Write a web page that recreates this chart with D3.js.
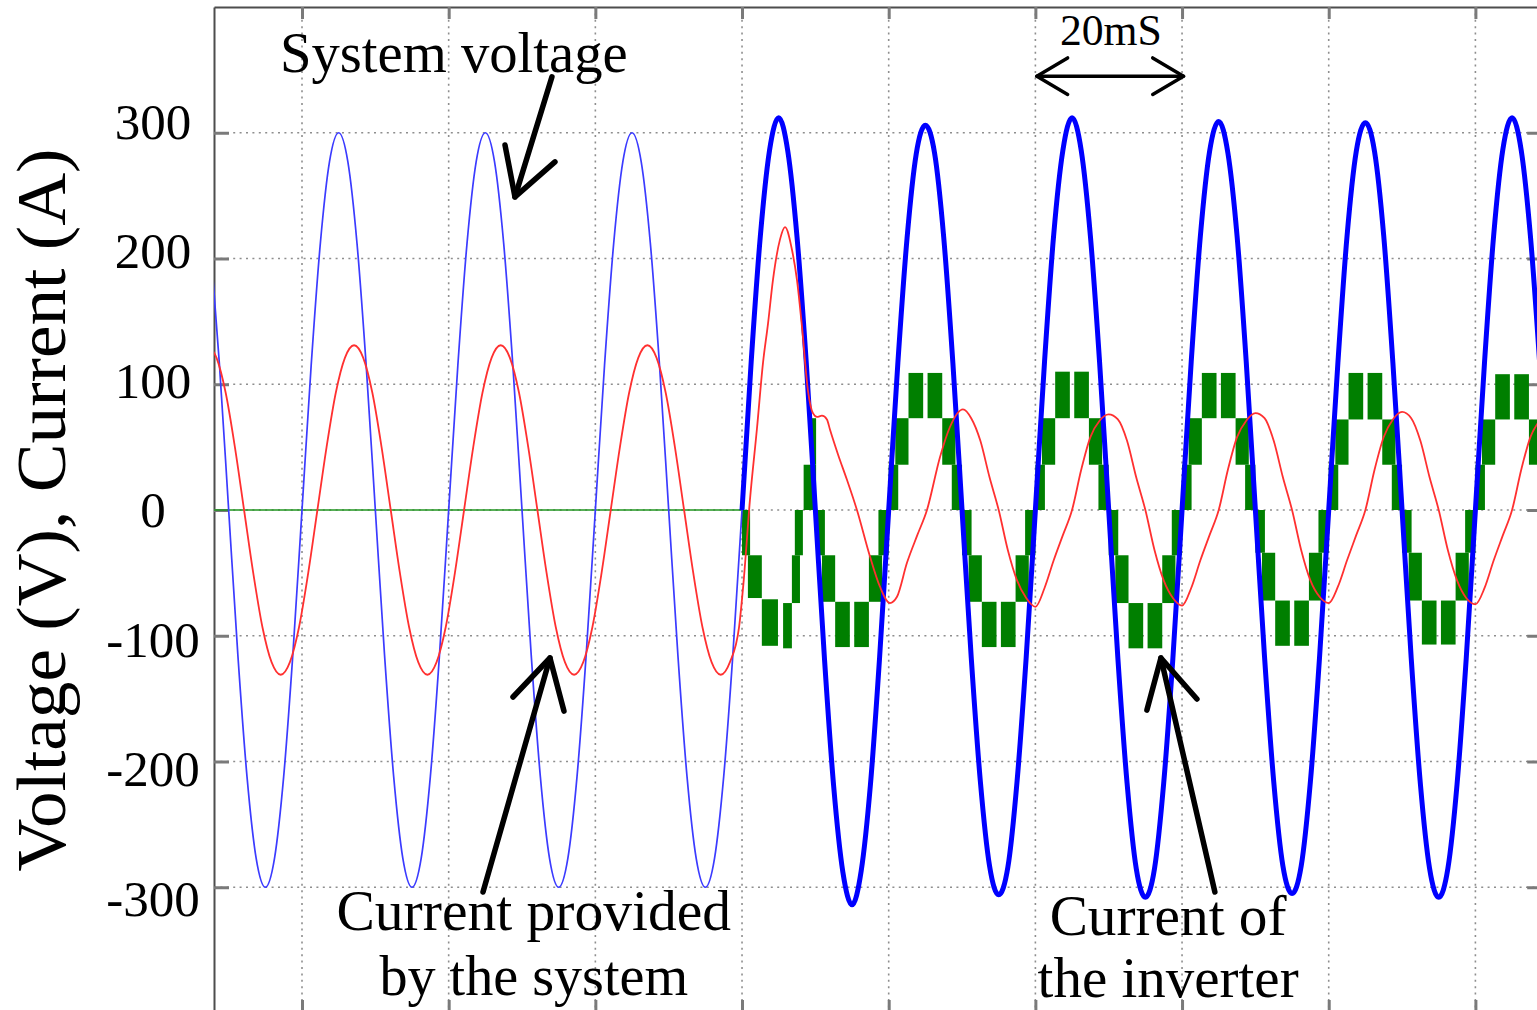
<!DOCTYPE html>
<html>
<head>
<meta charset="utf-8">
<script src="https://cdn.jsdelivr.net/npm/d3@7"></script>
<style>
  html, body { margin: 0; padding: 0; background: #ffffff; overflow: hidden; }
  text { font-family: "Liberation Serif", "Times New Roman", serif; fill: #000; }
</style>
</head>
<body>
<svg id="chart" width="1537" height="1010"></svg>
<script>
// ---- time axis (ms) and value axis (V / A) ----
const timeGrid = [20, 40, 60, 80, 100, 120, 140, 160, 180];
const valueTicks = [-300, -200, -100, 0, 100, 200, 300];
const tickLabels = ["-300", "-200", "-100", "0", "100", "200", "300"];

// ---- system voltage, sampled every 1.25 ms ----
// before the inverter is connected (t = 7.5 ... 80 ms)
const voltagePreT0 = 7.5, voltagePreDt = 1.25;
const voltagePre = [
  212, 115, 0, -115, -212, -277, -300, -277, -212, -115,
  0, 115, 212, 277, 300, 277, 212, 115,
  0, -115, -212, -277, -300, -277, -212, -115,
  0, 115, 212, 277, 300, 277, 212, 115,
  0, -115, -212, -277, -300, -277, -212, -115,
  0, 115, 212, 277, 300, 277, 212, 115,
  0, -115, -212, -277, -300, -277, -212, -115,
  0
];
// after the inverter is connected (t = 80 ... 190 ms)
const voltagePostT0 = 80, voltagePostDt = 1.25;
const voltagePost = [
  0, 118, 218, 286, 312, 285, 217, 118, 0, -119, -220, -288, -314, -287, -219, -118,
  0, 117, 216, 283, 306, 284, 217, 117, 0, -117, -216, -283, -306, -284, -216, -117,
  0, 118, 219, 286, 312, 286, 218, 118, 0, -118, -217, -285, -308, -285, -217, -118,
  0, 118, 218, 285, 309, 284, 218, 118, 0, -117, -216, -283, -305, -283, -216, -117,
  0, 117, 218, 285, 308, 285, 218, 117, 0, -118, -218, -285, -308, -285, -218, -118,
  0, 118, 219, 287, 312, 286, 218, 118, 0
];

// ---- current provided by the system ----
const currentPreT0 = 7.1, currentPreDt = 1.25;
const currentPre = [
  131, 121, 93, 50, 0, -50, -93, -121, -131, -121, -93, -50, 0,
  50, 93, 121, 131, 121, 93, 50, 0,
  -50, -93, -121, -131, -121, -93, -50, 0,
  50, 93, 121, 131, 121, 93, 50, 0,
  -50, -93, -121, -131, -121, -93, -50, 0,
  50, 93, 121, 131, 121, 93, 50, 0,
  -50, -93, -121, -131, -121, -93
];
// transient right after connection: [time ms, current A]
const currentTransient = [
  [80.2, -58], [81.08, 8], [82.04, 65], [82.86, 117], [83.54, 148], [84.22, 183],
  [85.17, 215], [85.86, 225], [86.81, 207], [87.49, 183], [88.17, 146], [88.99, 95],
  [89.67, 77], [90.22, 74], [90.9, 75], [91.58, 72], [91.99, 64], [93.1, 44],
  [94.31, 24], [95.67, 0], [97.45, -37], [98.81, -61], [100.17, -74], [101.13, -69],
  [102.49, -42], [103.9, -20], [105.22, 0], [106.99, 42], [108.35, 66], [110.13, 80]
];
// steady state after the transient (t = 111.25 ... 190 ms)
const currentSteadyT0 = 111.25, currentSteadyDt = 1.25;
const currentSteady = [
  73, 55, 26, 0, -32, -56, -70,
  -77, -62, -40, -20, 0, 32, 58, 71, 76, 72, 55, 26, 0, -32, -56, -70,
  -76, -62, -40, -20, 0, 32, 58, 71, 77, 73, 55, 26, 0, -32, -56, -69,
  -74, -61, -40, -20, 0, 32, 58, 72, 78, 73, 55, 26, 0, -32, -56, -70,
  -75, -62, -40, -20, 0, 32, 58, 71, 77
];

// ---- current of the inverter ----
// idle (not connected): zero current
const inverterIdle = [[8, 0], [80, 0]];
// switching bands: [t start, t end, lower level, upper level]
const inverterBands = [
  [80.0, 81.1, 0, -36], [80.8, 82.7, -36, -70], [82.7, 84.9, -71, -108],
  [85.6, 86.8, -74, -110], [86.8, 87.9, -36, -74], [87.2, 88.3, 0, -36],
  [88.4, 90.1, 0, 36], [89.5, 90.1, 36, 73],

  [90.1, 91.3, 0, -36], [90.9, 92.7, -36, -73], [92.7, 94.7, -73, -109],
  [95.3, 97.3, -73, -109], [97.3, 99.1, -36, -73], [98.6, 100.0, 0, -36],

  [100.0, 101.3, 0, 36], [100.9, 102.7, 36, 73], [102.7, 104.7, 73, 109],
  [105.3, 107.3, 73, 109], [107.3, 109.1, 36, 73], [108.6, 110.0, 0, 36],

  [110.0, 111.3, 0, -36], [110.9, 112.7, -36, -73], [112.7, 114.7, -73, -109],
  [115.3, 117.3, -73, -109], [117.3, 119.1, -36, -73], [118.6, 120.0, 0, -36],

  [120.0, 121.3, 0, 36], [120.9, 122.7, 36, 73], [122.7, 124.7, 73, 110],
  [125.3, 127.3, 73, 110], [127.3, 129.1, 36, 73], [128.6, 130.0, 0, 36],

  [130.0, 131.3, 0, -36], [130.9, 132.7, -36, -74], [132.7, 134.7, -74, -110],
  [135.3, 137.3, -74, -110], [137.3, 139.1, -36, -74], [138.6, 140.0, 0, -36],

  [140.0, 141.3, 0, 36], [140.9, 142.7, 36, 73], [142.7, 144.7, 73, 109],
  [145.3, 147.3, 73, 109], [147.3, 149.1, 36, 73], [148.6, 150.0, 0, 36],

  [150.0, 151.3, 0, -34], [150.9, 152.7, -34, -72], [152.7, 154.7, -72, -108],
  [155.3, 157.3, -72, -108], [157.3, 159.1, -34, -72], [158.6, 160.0, 0, -34],

  [160.0, 161.3, 0, 36], [160.9, 162.7, 36, 72], [162.7, 164.7, 72, 109],
  [165.3, 167.3, 72, 109], [167.3, 169.1, 36, 72], [168.6, 170.0, 0, 36],

  [170.0, 171.3, 0, -34], [170.9, 172.7, -34, -72], [172.7, 174.7, -72, -107],
  [175.3, 177.3, -72, -107], [177.3, 179.1, -34, -72], [178.6, 180.0, 0, -34],

  [180.0, 181.3, 0, 36], [180.9, 182.7, 36, 72], [182.7, 184.7, 72, 108],
  [185.3, 187.3, 72, 108], [187.3, 189.1, 36, 72], [188.6, 190.0, 0, 36]
];

// ---- annotations, placed in data units (ms, value); span = text run in ms ----
const labels = [
  { text: "System voltage",   t: 17.0,  v: 348,  anchor: "start",  size: 56, span: 47.4 },
  { text: "Current provided", t: 51.6,  v: -334, anchor: "middle", size: 56, span: 53.8 },
  { text: "by the system",    t: 51.6,  v: -386, anchor: "middle", size: 56, span: 42.1 },
  { text: "Current of",       t: 138.1, v: -338, anchor: "middle", size: 56, span: 32.3 },
  { text: "the inverter",     t: 138.1, v: -387, anchor: "middle", size: 56, span: 35.6 },
  { text: "20mS",             t: 130.3, v: 370,  anchor: "middle", size: 45, span: 13.9 }
];
// pointer arrows: tail, tip and the two barb ends
const pointers = [
  { tail: [54.08, 344.4], tip: [49.04, 249.0], barbs: [[47.68, 290.3], [54.49, 276.8]] },
  { tail: [44.68, -303.8], tip: [53.81, -117.7], barbs: [[48.77, -148.7], [55.72, -159.9]] },
  { tail: [144.48, -303.8], tip: [137.12, -117.7], barbs: [[135.21, -159.1], [142.03, -150.3]] }
];
// one-period span marker
const periodSpan = { from: 120.2, to: 140.2, v: 345, barbT: 4.2, barbV: 14.5 };

// ---------------------------------------------------------------
const svg = d3.select("#chart");
const x = d3.scaleLinear().domain([8, 188.4]).range([214, 1537]);
const y = d3.scaleLinear().domain([-400, 400]).range([1013, 7]);
const tRight = 188.7;

const sampled = (t0, dt, vals) => vals.map((v, i) => [t0 + i * dt, v]);

svg.append("defs").append("clipPath").attr("id", "plot-area")
  .append("rect")
  .attr("x", x(8)).attr("y", y(400))
  .attr("width", x(tRight) - x(8)).attr("height", y(-400) - y(400));

// dotted grid
const grid = svg.append("g")
  .attr("stroke", "#8e8e8e").attr("stroke-width", 1.6)
  .attr("stroke-dasharray", "2,4.4").attr("fill", "none");
grid.append("g").selectAll("line").data(valueTicks).join("line")
  .attr("x1", x(8)).attr("x2", x(tRight))
  .attr("y1", d => y(d)).attr("y2", d => y(d));
grid.append("g").selectAll("line").data(timeGrid).join("line")
  .attr("x1", d => x(d)).attr("x2", d => x(d))
  .attr("y1", y(400)).attr("y2", y(-400));

// frame with inward ticks
function styleAxis(g) {
  g.select(".domain").attr("stroke", "#4d4d4d").attr("stroke-width", 2);
  g.selectAll(".tick line").attr("stroke", "#7a7a7a").attr("stroke-width", 3);
  g.selectAll(".tick text").remove();
}
svg.append("g").attr("transform", `translate(${x(8)},0)`)
  .call(d3.axisRight(y).tickValues(valueTicks).tickSize(15).tickSizeOuter(0).tickFormat(""))
  .call(styleAxis);
svg.append("g").attr("transform", `translate(${x(tRight)},0)`)
  .call(d3.axisLeft(y).tickValues(valueTicks).tickSize(12).tickSizeOuter(0).tickFormat(""))
  .call(styleAxis);
svg.append("g").attr("transform", `translate(0,${y(400)})`)
  .call(d3.axisBottom(x).tickValues(timeGrid).tickSize(12).tickSizeOuter(0).tickFormat(""))
  .call(styleAxis);
svg.append("g").attr("transform", `translate(0,${y(-400)})`)
  .call(d3.axisTop(x).tickValues(timeGrid).tickSize(13).tickSizeOuter(0).tickFormat(""))
  .call(styleAxis);

// value labels
svg.append("g").selectAll("text").data(valueTicks).join("text")
  .attr("x", 153)
  .attr("y", d => y(d * 1.03))
  .attr("dy", "0.34em")
  .attr("text-anchor", "middle")
  .attr("font-size", 51)
  .text((d, i) => tickLabels[i]);

// axis title
svg.append("text")
  .attr("transform", `translate(65,${y(0)}) rotate(-90)`)
  .attr("text-anchor", "middle")
  .attr("font-size", 70)
  .attr("textLength", 723)
  .attr("lengthAdjust", "spacingAndGlyphs")
  .text("Voltage (V), Current (A)");

// ---- traces ----
const plot = svg.append("g").attr("clip-path", "url(#plot-area)");
const line = d3.line().x(d => x(d[0])).y(d => y(d[1])).curve(d3.curveMonotoneX);

// inverter current
plot.append("path").datum(inverterIdle)
  .attr("d", d3.line().x(d => x(d[0])).y(d => y(d[1])))
  .attr("fill", "none").attr("stroke", "#1f951f").attr("stroke-width", 1.6);
plot.append("g").attr("fill", "#007f00").selectAll("rect").data(inverterBands).join("rect")
  .attr("x", d => x(d[0]))
  .attr("width", d => x(d[1]) - x(d[0]))
  .attr("y", d => y(Math.max(d[2], d[3])))
  .attr("height", d => Math.abs(y(d[2]) - y(d[3])));

// system voltage
plot.append("path").datum(sampled(voltagePreT0, voltagePreDt, voltagePre))
  .attr("d", line).attr("fill", "none")
  .attr("stroke", "#3b3bff").attr("stroke-width", 1.7);
plot.append("path").datum(sampled(voltagePostT0, voltagePostDt, voltagePost))
  .attr("d", line).attr("fill", "none")
  .attr("stroke", "#0000ff").attr("stroke-width", 5).attr("stroke-linejoin", "round");

// current provided by the system
const systemCurrent = sampled(currentPreT0, currentPreDt, currentPre)
  .concat(currentTransient)
  .concat(sampled(currentSteadyT0, currentSteadyDt, currentSteady));
plot.append("path").datum(systemCurrent)
  .attr("d", line).attr("fill", "none")
  .attr("stroke", "#ff3030").attr("stroke-width", 1.8);

// ---- annotations ----
svg.append("g").selectAll("text").data(labels).join("text")
  .attr("x", d => x(d.t)).attr("y", d => y(d.v))
  .attr("text-anchor", d => d.anchor)
  .attr("font-size", d => d.size)
  .attr("textLength", d => x(d.span) - x(0))
  .attr("lengthAdjust", "spacingAndGlyphs")
  .text(d => d.text);

const seg = d3.line().x(d => x(d[0])).y(d => y(d[1]));
const arrows = svg.append("g").attr("fill", "none").attr("stroke", "#000")
  .attr("stroke-linecap", "round").attr("stroke-linejoin", "round");
pointers.forEach(p => {
  arrows.append("path").attr("d", seg([p.tail, p.tip])).attr("stroke-width", 5.5);
  arrows.append("path").attr("d", seg([p.barbs[0], p.tip, p.barbs[1]])).attr("stroke-width", 5.5);
});
const s = periodSpan;
arrows.append("path").attr("d", seg([[s.from, s.v], [s.to, s.v]])).attr("stroke-width", 3.5);
arrows.append("path").attr("stroke-width", 3.5)
  .attr("d", seg([[s.from + s.barbT, s.v + s.barbV], [s.from, s.v], [s.from + s.barbT, s.v - s.barbV]]));
arrows.append("path").attr("stroke-width", 3.5)
  .attr("d", seg([[s.to - s.barbT, s.v + s.barbV], [s.to, s.v], [s.to - s.barbT, s.v - s.barbV]]));
</script>
</body>
</html>
